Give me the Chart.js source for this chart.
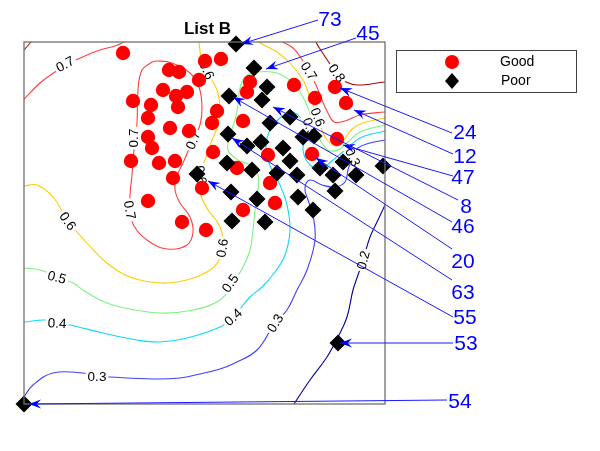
<!DOCTYPE html>
<html>
<head>
<meta charset="utf-8">
<script src="https://cdn.jsdelivr.net/npm/chart.js@4.4.0/dist/chart.umd.min.js"></script>
<style>
  html, body { margin: 0; padding: 0; background: #fff; }
  #wrap { width: 600px; height: 451px; }
</style>
</head>
<body>
<div id="wrap"><canvas id="chart" width="600" height="451"></canvas></div>
<script>
// plot units: x 0..361, y 0..362 (the original has no tick labels)
const xRange = [0, 361];
const yRange = [0, 362];

const goodPoints = [
  [99,351],[181,343],[197,345],[145,334],[155,332],[175,324],[139,314],[152,308],[163,312],
  [109,303],[127,299],[154,297],[124,286],[146,276],[165,273],[193,293],[188,281],[124,267],
  [128,256],[107,243],[135,241],[151,243],[149,226],[178,216],[124,203],[158,182],[182,174],
  [226,322],[223,312],[270,319],[291,306],[311,317],[322,301],[219,283],[313,265],[288,250],
  [213,236],[244,249],[246,221],[251,201],[219,194],[189,252]
];
const poorPoints = [
  [212,360],[230,336],[243,317],[238,304],[205,308],[266,287],[246,281],[279,267],[290,268],
  [204,270],[223,258],[237,262],[259,256],[266,243],[273,229],[296,236],[309,229],[319,242],
  [332,229],[359,238],[311,213],[274,207],[233,205],[207,212],[228,234],[253,231],[173,230],
  [203,241],[289,194],[208,183],[241,182],[314,61],[0,0]
];

// contour lines (level, points)
const contour08 = [[292,366],[292,362],[298,352],[306,340],[314,329],[322,322],[334,319],[361,322],[366,322]];
const contour07corner = [[-2,352],[0,354],[7,362],[10,366]];
const contour07left = [[-3,302],[0,305],[16,321],[31,332],[46,341],[63,349],[76,354],[91,358],[100,362],[106,366]];
const contour07loop = [[128,342],[118,334],[114,314],[113,281],[110,254],[108,229],[106,209],[106,194],[110,178],
  [123,164],[143,155],[163,159],[169,172],[166,187],[156,201],[151,214],[152,226],[159,241],[168,262],
  [176,279],[178,297],[175,317],[166,331],[148,341],[133,343],[128,342]];
const contour07right = [[252,366],[259,362],[269,356],[277,346],[285,333],[292,319],[298,304],[304,291],
  [310,282],[321,283],[336,289],[361,292],[366,292]];
const contour06outer = [[-5,218],[0,218],[13,219],[29,207],[44,183],[63,161],[83,141],[106,127],[136,121],
  [163,124],[183,132],[194,142],[198,156],[198,171],[192,184],[184,194],[176,211],[174,226],[179,239],
  [184,252],[188,264],[193,276],[196,294],[194,311],[189,322],[181,334],[177,346],[175,362],[174,367]];
const contour06right = [[228,366],[240,359],[253,352],[266,341],[279,324],[286,307],[292,292],[298,274],
  [303,264],[311,258],[319,263],[328,275],[339,281],[361,286],[366,287]];
const contour05 = [[-5,136],[0,136],[16,134],[33,127],[49,121],[59,114],[76,104],[96,97],[136,91],[169,94],
  [196,104],[209,121],[219,137],[226,154],[229,174],[231,194],[234,214],[234,229],[226,239],[214,244],
  [204,254],[206,269],[211,284],[214,299],[216,316],[221,327],[233,332],[253,331],[269,321],[279,307],
  [286,291],[291,277],[296,264],[304,254],[314,254],[324,262],[336,272],[361,279],[366,280]];
const contour04 = [[-5,82],[0,82],[21,84],[33,81],[46,79],[79,71],[113,64],[136,62],[163,66],[196,77],
  [209,87],[226,107],[238,117],[251,132],[261,149],[266,174],[263,199],[256,219],[249,232],[244,244],
  [242,259],[246,274],[256,286],[268,292],[278,284],[282,269],[279,254],[286,239],[298,236],[309,244],
  [321,254],[336,266],[361,273],[366,274]];
const contour03 = [[-2,2],[0,7],[9,19],[29,31],[59,31],[73,28],[86,27],[129,25],[156,26],[176,30],[196,35],
  [211,41],[233,54],[251,81],[263,94],[273,114],[283,134],[291,164],[289,189],[284,204],[281,216],
  [286,224],[298,219],[311,217],[321,222],[324,234],[328,246],[334,256],[346,261],[361,264],[366,265]];
const contour02 = [[267,-5],[270,0],[286,24],[303,47],[314,67],[323,87],[329,114],[334,129],[339,144],
  [346,167],[353,182],[361,199],[364,206]];

// contour labels: x, y, text, angle (deg)
const contourLabels = [
  [41,340,'0.7',-28],[109,266,'0.7',-90],[169,264,'0.7',-68],[106,194,'0.7',80],
  [183,334,'0.6',65],[44,183,'0.6',55],[33,127,'0.5',15],[33,81,'0.4',3],[73,28,'0.3',0],
  [251,81,'0.3',-58],[209,87,'0.4',-42],[206,121,'0.5',-55],[198,156,'0.6',-82],
  [339,144,'0.2',-75],[285,333,'0.7',58],[313,331,'0.8',55],[294,287,'0.6',70],
  [286,277,'0.5',70],[329,247,'0.3',65],[177,229,'0.6',80]
];

// numbered callouts
const calloutNames = ['73','45','24','12','47','8','46','20','63','55','53','54'];
const calloutTextPos = [[306,384],[344,370],[441,271],[441,247],[439,226],[442,197],[439,177],[439,142],[439,111],[441,86],[442,60],[436,2]];
const calloutTails = [[294,384],[332,366],[428,271],[429,250],[429,228],[434,204],[428,182],[428,155],[428,124],[429,87],[429,61],[423,4]];
const calloutTips = [[217,360],[242,335],[316,316],[330,294],[319,259],[249,297],[209,307],[292,246],[208,266],[184,223],[316,61],[5,0]];

const toXY = p => ({ x: p[0], y: p[1] });

function contourSet(pts, color) {
  return {
    label: 'contour',
    data: pts.map(toXY),
    showLine: true,
    borderColor: color,
    borderWidth: 1.1,
    pointRadius: 0,
    pointHoverRadius: 0,
    tension: 0.4,
    fill: false,
    order: 2
  };
}

function arrowHead(ctx, tx, ty, fx, fy) {
  const ang = Math.atan2(ty - fy, tx - fx);
  const L = 12, W = 4.5;
  ctx.save();
  ctx.translate(tx, ty);
  ctx.rotate(ang);
  ctx.beginPath();
  ctx.moveTo(0, 0);
  ctx.lineTo(-L, -W);
  ctx.lineTo(-L * 0.65, 0);
  ctx.lineTo(-L, W);
  ctx.closePath();
  ctx.fill();
  ctx.restore();
}

// labels go under the markers but over the contour lines
const contourLabelPlugin = {
  id: 'contourLabels',
  beforeDatasetDraw(chart, args) {
    if (chart.data.datasets[args.index].label !== 'Good') return;
    const { ctx, scales: { x, y } } = chart;
    ctx.save();
    ctx.font = '13.5px "Liberation Sans", Arial, sans-serif';
    ctx.textAlign = 'center';
    ctx.textBaseline = 'middle';
    contourLabels.forEach(([vx, vy, txt, ang]) => {
      ctx.save();
      ctx.translate(x.getPixelForValue(vx), y.getPixelForValue(vy));
      ctx.rotate(ang * Math.PI / 180);
      const w = ctx.measureText(txt).width;
      ctx.fillStyle = '#fff';
      ctx.fillRect(-w / 2 - 2, -6, w + 4, 12);
      ctx.fillStyle = '#000';
      ctx.fillText(txt, 0, 1);
      ctx.restore();
    });
    ctx.restore();
  }
};

const overlayPlugin = {
  id: 'overlay',
  afterDatasetsDraw(chart) {
    const { ctx, chartArea: a, scales: { x, y } } = chart;
    ctx.save();

    // axes box
    ctx.strokeStyle = '#707070';
    ctx.lineWidth = 1.3;
    ctx.strokeRect(a.left, a.top, a.right - a.left, a.bottom - a.top);

    // title
    ctx.fillStyle = '#000';
    ctx.font = 'bold 17px "Liberation Sans", Arial, sans-serif';
    ctx.textAlign = 'center';
    ctx.textBaseline = 'alphabetic';
    ctx.fillText('List B', (a.left + a.right) / 2 + 3, a.top - 8);

    // callout arrows
    ctx.strokeStyle = '#1a1aff';
    ctx.fillStyle = '#0000ff';
    ctx.lineWidth = 1;
    calloutNames.forEach((name, i) => {
      const tx = x.getPixelForValue(calloutTails[i][0]), ty = y.getPixelForValue(calloutTails[i][1]);
      const hx = x.getPixelForValue(calloutTips[i][0]), hy = y.getPixelForValue(calloutTips[i][1]);
      ctx.beginPath();
      ctx.moveTo(tx, ty);
      ctx.lineTo(hx, hy);
      ctx.stroke();
      arrowHead(ctx, hx, hy, tx, ty);
    });
    ctx.font = '21px "Liberation Sans", Arial, sans-serif';
    ctx.textAlign = 'center';
    ctx.textBaseline = 'middle';
    calloutNames.forEach((name, i) => {
      ctx.fillText(name, x.getPixelForValue(calloutTextPos[i][0]), y.getPixelForValue(calloutTextPos[i][1]));
    });

    // legend box
    const lx = 396.5, ly = 50.5, lw = 180, lh = 42;
    ctx.fillStyle = '#fff';
    ctx.fillRect(lx, ly, lw, lh);
    ctx.strokeStyle = '#404040';
    ctx.lineWidth = 1;
    ctx.strokeRect(lx, ly, lw, lh);
    ctx.fillStyle = '#ff0000';
    ctx.beginPath();
    ctx.arc(452, 62, 7, 0, Math.PI * 2);
    ctx.fill();
    ctx.fillStyle = '#000';
    ctx.beginPath();
    ctx.moveTo(452, 73); ctx.lineTo(459, 81); ctx.lineTo(452, 89); ctx.lineTo(445, 81);
    ctx.closePath();
    ctx.fill();
    ctx.font = '14px "Liberation Sans", Arial, sans-serif';
    ctx.textAlign = 'left';
    ctx.fillText('Good', 500, 62);
    ctx.fillText('Poor', 501, 81);

    ctx.restore();
  }
};

const datasets = [
  {
    label: 'Poor',
    data: poorPoints.map(toXY),
    pointStyle: 'rectRot',
    pointRadius: 8.5,
    pointBackgroundColor: '#000',
    pointBorderWidth: 0,
    clip: false,
    order: 0
  },
  {
    label: 'Good',
    data: goodPoints.map(toXY),
    pointStyle: 'circle',
    pointRadius: 7.2,
    pointBackgroundColor: '#ff0000',
    pointBorderWidth: 0,
    clip: false,
    order: 1
  },
  contourSet(contour08, '#b00000'),
  contourSet(contour07corner, '#c02020'),
  contourSet(contour07left, '#ff4040'),
  contourSet(contour07loop, '#ff4040'),
  contourSet(contour07right, '#ff4040'),
  contourSet(contour06outer, '#ffcc00'),
  contourSet(contour06right, '#ffcc00'),
  contourSet(contour05, '#80f080'),
  contourSet(contour04, '#10d8ff'),
  contourSet(contour03, '#3f3fff'),
  contourSet(contour02, '#0000a0')
];

new Chart(document.getElementById('chart'), {
  type: 'scatter',
  data: { datasets },
  options: {
    responsive: false,
    animation: false,
    events: [],
    layout: { padding: { left: 24, top: 42, right: 215, bottom: 47 } },
    scales: {
      x: { type: 'linear', min: xRange[0], max: xRange[1], display: false },
      y: { type: 'linear', min: yRange[0], max: yRange[1], display: false }
    },
    plugins: {
      legend: { display: false },
      tooltip: { enabled: false },
      title: { display: false }
    }
  },
  plugins: [contourLabelPlugin, overlayPlugin]
});
</script>
</body>
</html>
